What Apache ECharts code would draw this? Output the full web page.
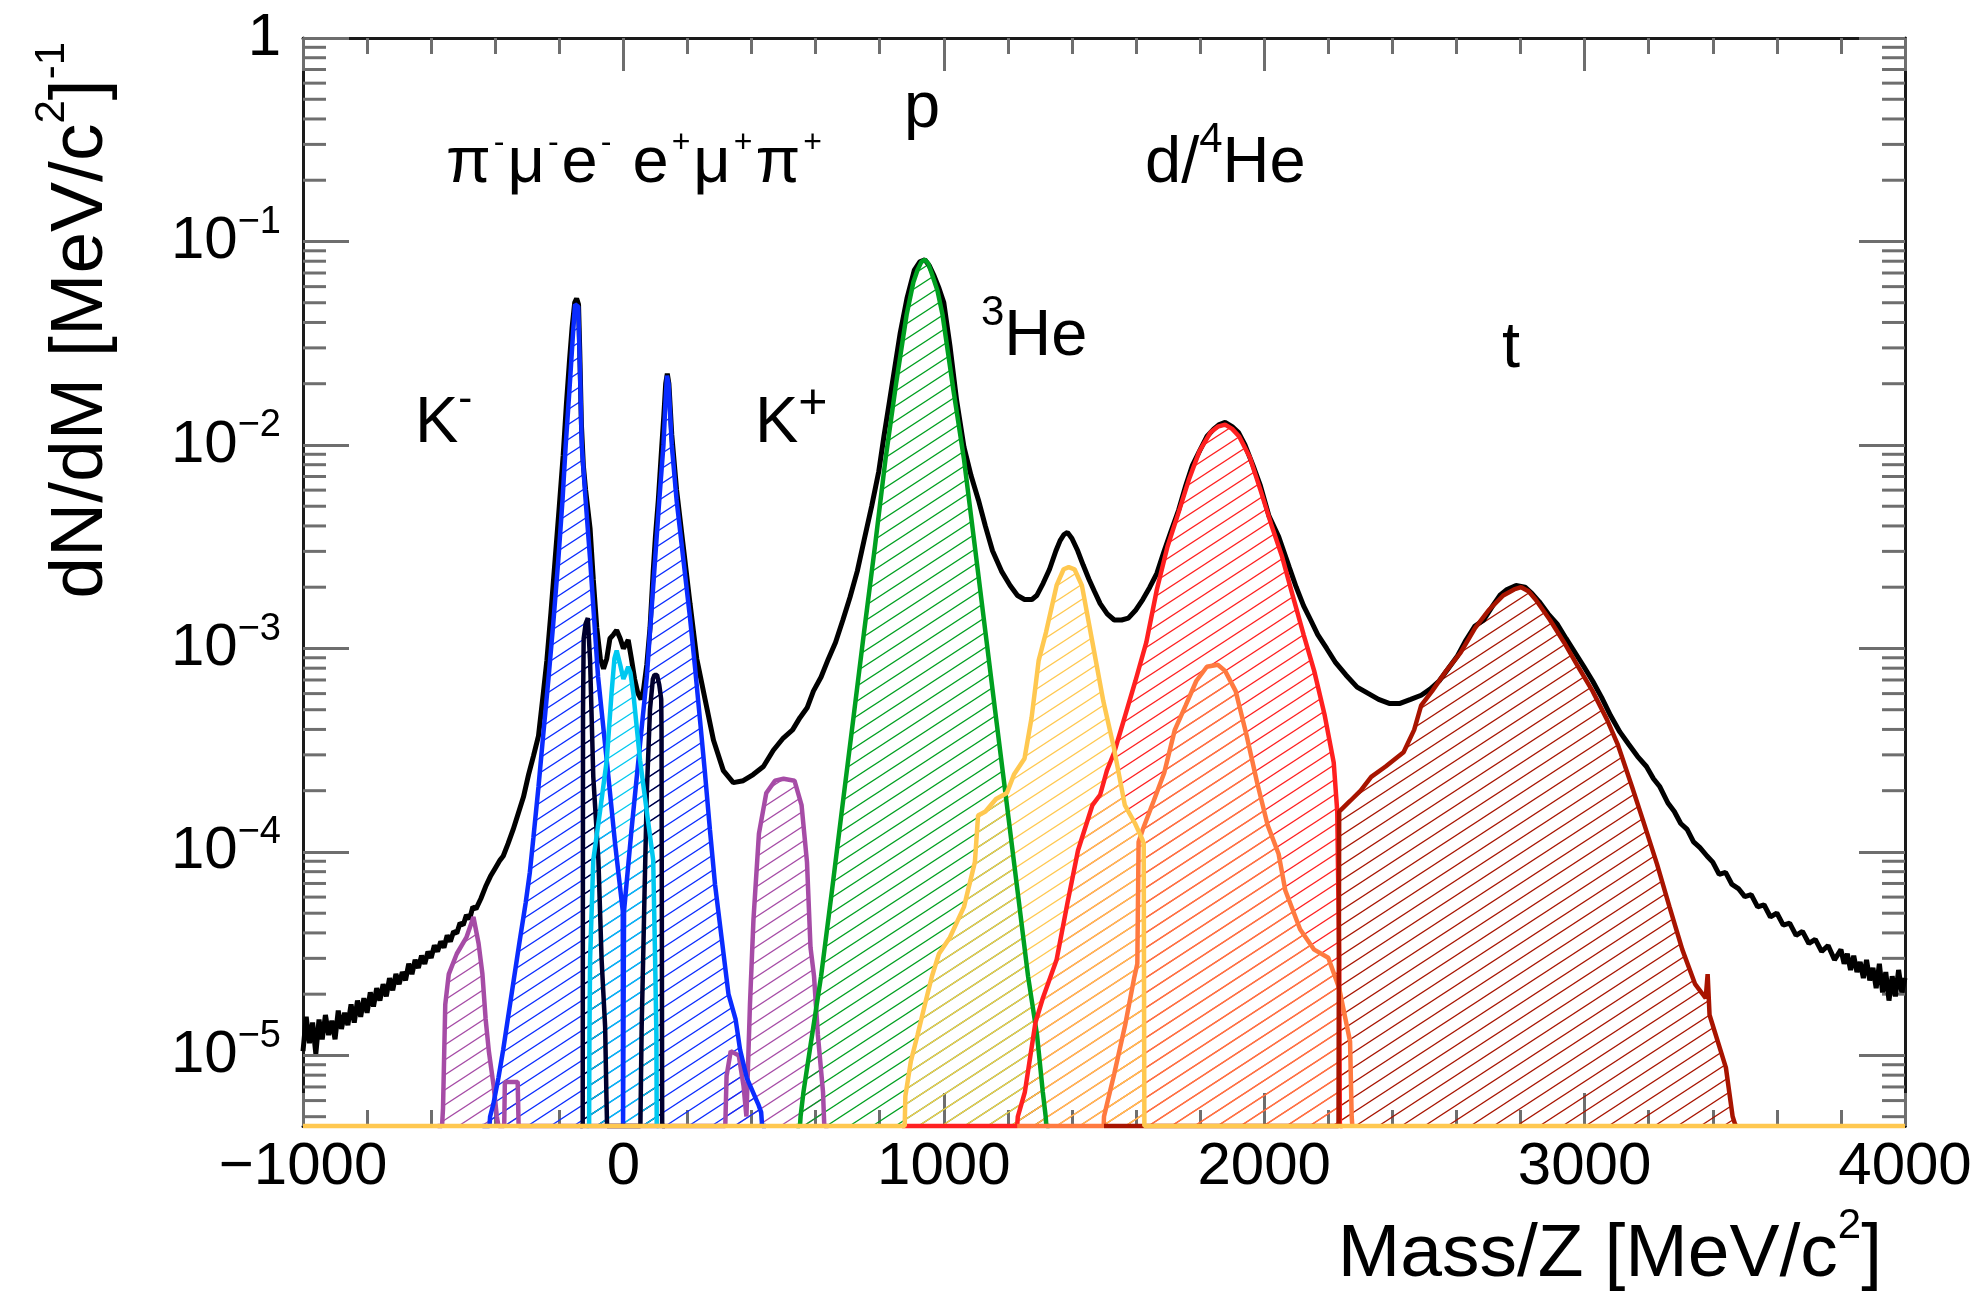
<!DOCTYPE html>
<html>
<head>
<meta charset="utf-8">
<script src="https://cdn.jsdelivr.net/npm/echarts@6.0.0/dist/echarts.min.js"></script>
<style>
html,body{margin:0;padding:0;background:#ffffff;}
#chart{width:1982px;height:1297px;}
</style>
</head>
<body>
<div id="chart"></div>
<script>
// ---------------- axis ranges and tick values ----------------
const X_MIN = -1000, X_MAX = 4000, X_STEP = 1000;
const Y_MIN = 4.5e-6, Y_MAX = 1;
const yMinorTicks = [5e-6,6e-6,7e-6,8e-6,9e-6,
  2e-5,3e-5,4e-5,5e-5,6e-5,7e-5,8e-5,9e-5,
  2e-4,3e-4,4e-4,5e-4,6e-4,7e-4,8e-4,9e-4,
  2e-3,3e-3,4e-3,5e-3,6e-3,7e-3,8e-3,9e-3,
  2e-2,3e-2,4e-2,5e-2,6e-2,7e-2,8e-2,9e-2,
  0.2,0.3,0.4,0.5,0.6,0.7,0.8,0.9];

// ---------------- data: [Mass/Z (MeV/c^2), dN/dM] ; 0 = empty bin ----------------
const totalSpectrum = [[-1000,1.05e-5],[-990,1.55e-5],[-980,1.15e-5],[-970,1.45e-5],[-960,1.02e-5],[-950,1.50e-5],[-940,1.20e-5],[-930,1.58e-5],[-920,1.26e-5],[-910,1.48e-5],[-900,1.20e-5],[-890,1.66e-5],[-880,1.35e-5],[-870,1.62e-5],[-860,1.41e-5],[-850,1.78e-5],[-840,1.45e-5],[-830,1.86e-5],[-820,1.55e-5],[-810,1.91e-5],[-800,1.62e-5],[-790,2.04e-5],[-780,1.74e-5],[-770,2.14e-5],[-760,1.86e-5],[-750,2.24e-5],[-740,1.95e-5],[-730,2.40e-5],[-720,2.09e-5],[-710,2.51e-5],[-700,2.24e-5],[-690,2.57e-5],[-680,2.34e-5],[-670,2.82e-5],[-660,2.51e-5],[-650,2.95e-5],[-640,2.69e-5],[-630,3.09e-5],[-620,2.82e-5],[-610,3.24e-5],[-600,3.02e-5],[-590,3.47e-5],[-580,3.24e-5],[-570,3.63e-5],[-560,3.39e-5],[-550,3.89e-5],[-540,3.63e-5],[-530,4.07e-5],[-520,3.98e-5],[-510,4.47e-5],[-500,4.37e-5],[-490,4.90e-5],[-480,4.68e-5],[-470,5.37e-5],[-460,5.25e-5],[-445,5.89e-5],[-430,6.76e-5],[-415,7.59e-5],[-400,8.32e-5],[-385,9.12e-5],[-375,9.55e-5],[-360,1.10e-4],[-344,1.29e-4],[-328,1.55e-4],[-312,1.86e-4],[-296,2.40e-4],[-281,2.95e-4],[-265,3.72e-4],[-250,6.03e-4],[-239,8.71e-4],[-226,1.51e-3],[-213,2.75e-3],[-200,5.01e-3],[-188,8.91e-3],[-178,1.58e-2],[-168,2.63e-2],[-160,3.80e-2],[-152,5.01e-2],[-146,5.25e-2],[-140,4.90e-2],[-136,2.82e-2],[-131,1.26e-2],[-125,7.94e-3],[-118,6.03e-3],[-104,3.89e-3],[-94,2.19e-3],[-83,1.26e-3],[-72,8.91e-4],[-62,7.94e-4],[-52,8.91e-4],[-42,1.12e-3],[-31,1.17e-3],[-21,1.23e-3],[-10,1.12e-3],[0,1.00e-3],[8,1.05e-3],[15,1.10e-3],[25,8.91e-4],[35,7.08e-4],[45,6.03e-4],[55,5.62e-4],[63,6.31e-4],[73,8.32e-4],[83,1.26e-3],[93,2.40e-3],[100,3.55e-3],[109,5.37e-3],[120,1.00e-2],[126,1.38e-2],[132,2.00e-2],[137,2.24e-2],[142,2.00e-2],[151,1.12e-2],[166,6.03e-3],[187,3.16e-3],[208,1.66e-3],[229,8.91e-4],[255,5.62e-4],[281,3.55e-4],[312,2.51e-4],[343,2.19e-4],[374,2.24e-4],[405,2.40e-4],[437,2.63e-4],[468,3.16e-4],[499,3.63e-4],[528,3.98e-4],[551,4.57e-4],[574,5.13e-4],[593,6.17e-4],[617,7.24e-4],[640,8.91e-4],[662,1.07e-3],[685,1.38e-3],[707,1.78e-3],[730,2.40e-3],[751,3.39e-3],[775,5.01e-3],[797,7.41e-3],[813,1.10e-2],[830,1.62e-2],[847,2.40e-2],[864,3.55e-2],[885,5.25e-2],[908,7.24e-2],[925,7.94e-2],[941,8.13e-2],[955,7.59e-2],[970,6.76e-2],[985,5.89e-2],[1000,5.01e-2],[1019,3.09e-2],[1040,1.66e-2],[1063,9.77e-3],[1085,7.08e-3],[1108,5.37e-3],[1130,3.98e-3],[1152,3.02e-3],[1180,2.40e-3],[1207,2.04e-3],[1230,1.82e-3],[1252,1.74e-3],[1275,1.74e-3],[1290,1.82e-3],[1310,2.09e-3],[1330,2.45e-3],[1350,3.02e-3],[1363,3.39e-3],[1375,3.63e-3],[1386,3.72e-3],[1400,3.47e-3],[1418,3.02e-3],[1435,2.57e-3],[1453,2.19e-3],[1470,1.91e-3],[1488,1.66e-3],[1510,1.48e-3],[1532,1.38e-3],[1555,1.38e-3],[1576,1.41e-3],[1600,1.55e-3],[1621,1.74e-3],[1643,2.00e-3],[1665,2.34e-3],[1688,3.02e-3],[1710,3.80e-3],[1733,4.79e-3],[1755,6.31e-3],[1776,7.94e-3],[1798,9.33e-3],[1821,1.10e-2],[1843,1.20e-2],[1860,1.26e-2],[1878,1.29e-2],[1900,1.23e-2],[1920,1.15e-2],[1940,1.00e-2],[1965,7.94e-3],[1988,6.31e-3],[2015,4.47e-3],[2045,3.55e-3],[2078,2.51e-3],[2100,2.00e-3],[2123,1.62e-3],[2145,1.38e-3],[2167,1.17e-3],[2195,1.00e-3],[2223,8.51e-4],[2255,7.41e-4],[2290,6.46e-4],[2323,6.03e-4],[2357,5.62e-4],[2390,5.37e-4],[2424,5.37e-4],[2457,5.62e-4],[2490,5.89e-4],[2518,6.31e-4],[2546,6.92e-4],[2574,7.94e-4],[2602,9.12e-4],[2630,1.10e-3],[2658,1.29e-3],[2685,1.38e-3],[2713,1.62e-3],[2735,1.82e-3],[2758,1.95e-3],[2786,2.04e-3],[2814,2.00e-3],[2836,1.86e-3],[2858,1.70e-3],[2886,1.48e-3],[2914,1.32e-3],[2942,1.12e-3],[2970,9.55e-4],[2998,8.13e-4],[3025,6.92e-4],[3053,5.75e-4],[3081,4.68e-4],[3110,3.89e-4],[3137,3.39e-4],[3165,2.95e-4],[3193,2.63e-4],[3215,2.29e-4],[3235,2.09e-4],[3260,1.74e-4],[3280,1.58e-4],[3300,1.38e-4],[3320,1.29e-4],[3340,1.12e-4],[3360,1.05e-4],[3382,9.55e-5],[3400,8.91e-5],[3420,7.76e-5],[3440,7.94e-5],[3460,6.92e-5],[3480,6.61e-5],[3500,6.03e-5],[3520,6.17e-5],[3540,5.37e-5],[3560,5.50e-5],[3580,4.79e-5],[3600,5.01e-5],[3620,4.37e-5],[3640,4.47e-5],[3660,3.89e-5],[3680,4.07e-5],[3700,3.55e-5],[3720,3.72e-5],[3740,3.24e-5],[3760,3.47e-5],[3780,2.95e-5],[3800,3.31e-5],[3810,2.82e-5],[3820,3.16e-5],[3830,2.63e-5],[3840,3.09e-5],[3850,2.57e-5],[3860,2.88e-5],[3870,2.40e-5],[3880,2.95e-5],[3890,2.34e-5],[3900,2.69e-5],[3910,2.14e-5],[3920,2.82e-5],[3930,2.04e-5],[3940,2.57e-5],[3950,1.86e-5],[3960,2.45e-5],[3970,1.95e-5],[3980,2.63e-5],[3990,2.04e-5],[4000,2.40e-5]];

const kaons = [[-580,0],[-566,0],[-563,5.50e-6],[-556,1.78e-5],[-545,2.51e-5],[-520,3.16e-5],[-490,3.80e-5],[-468,4.79e-5],[-452,3.55e-5],[-440,2.51e-5],[-430,1.51e-5],[-420,1.05e-5],[-405,7.08e-6],[-395,5.01e-6],[-390,0],[-372,0],[-370,7.41e-6],[-330,7.41e-6],[-327,0],[318,0],[322,7.94e-6],[335,1.05e-5],[360,1.00e-5],[375,7.08e-6],[384,5.01e-6],[395,1.78e-5],[406,4.68e-5],[423,1.23e-4],[446,1.95e-4],[473,2.24e-4],[500,2.29e-4],[534,2.24e-4],[556,1.70e-4],[573,8.91e-5],[584,3.39e-5],[595,2.45e-5],[607,1.26e-5],[623,6.61e-6],[627,0],[640,0]];

const pions = [[-440,0],[-418,0],[-416,5.01e-6],[-406,5.75e-6],[-390,7.76e-6],[-375,1.07e-5],[-349,2.00e-5],[-323,3.72e-5],[-305,5.62e-5],[-292,7.94e-5],[-281,1.17e-4],[-265,2.09e-4],[-250,3.80e-4],[-234,7.08e-4],[-219,1.32e-3],[-203,2.75e-3],[-190,5.37e-3],[-180,1.00e-2],[-168,1.91e-2],[-158,3.39e-2],[-151,4.90e-2],[-146,5.01e-2],[-141,4.79e-2],[-136,2.51e-2],[-130,1.00e-2],[-118,5.37e-3],[-104,2.75e-3],[-79,7.24e-4],[-52,2.82e-4],[-26,1.10e-4],[-2,5.13e-5],[-1,0],[1,0],[2,5.13e-5],[26,1.32e-4],[52,3.39e-4],[73,7.24e-4],[99,2.75e-3],[112,5.37e-3],[125,1.00e-2],[131,1.58e-2],[136,2.19e-2],[141,2.00e-2],[151,1.00e-2],[166,5.37e-3],[187,2.75e-3],[208,1.41e-3],[224,7.94e-4],[239,4.47e-4],[255,2.40e-4],[270,1.29e-4],[286,6.92e-5],[307,3.72e-5],[328,2.00e-5],[350,1.51e-5],[364,1.07e-5],[385,7.76e-6],[421,5.75e-6],[430,5.25e-6],[433,0],[445,0]];

const muons = [[-135,0],[-127,0],[-126,5.01e-4],[-124,1.12e-3],[-118,1.32e-3],[-111,1.41e-3],[-104,8.71e-4],[-94,2.34e-4],[-78,9.12e-5],[-68,2.95e-5],[-57,1.38e-5],[-53,6.31e-6],[-51,0],[53,0],[55,7.94e-6],[57,1.38e-5],[62,3.16e-5],[66,6.31e-5],[73,1.95e-4],[83,5.01e-4],[92,7.08e-4],[97,7.41e-4],[105,7.41e-4],[112,6.61e-4],[118,5.62e-4],[119,3.98e-4],[121,0],[130,0]];

const electrons = [[-115,0],[-107,0],[-106,1.26e-5],[-104,2.95e-5],[-94,9.12e-5],[-73,1.58e-4],[-52,2.82e-4],[-37,6.03e-4],[-28,8.91e-4],[-21,9.77e-4],[-10,8.32e-4],[0,7.08e-4],[8,7.59e-4],[15,8.13e-4],[22,7.59e-4],[31,6.03e-4],[52,2.82e-4],[73,1.58e-4],[93,9.12e-5],[99,2.95e-5],[103,1.26e-5],[104,0],[110,0]];

const protons = [[540,0],[551,0],[553,5.01e-6],[562,6.61e-6],[584,1.12e-5],[617,2.45e-5],[651,6.46e-5],[684,1.70e-4],[718,4.57e-4],[751,1.20e-3],[785,3.16e-3],[818,8.51e-3],[851,2.00e-2],[884,4.37e-2],[905,6.31e-2],[918,7.24e-2],[930,7.94e-2],[941,8.13e-2],[952,7.76e-2],[963,6.92e-2],[980,5.75e-2],[996,4.37e-2],[1030,1.86e-2],[1063,8.51e-3],[1097,3.16e-3],[1130,1.20e-3],[1163,4.57e-4],[1197,1.70e-4],[1230,6.46e-5],[1263,2.45e-5],[1291,1.26e-5],[1309,6.61e-6],[1318,5.01e-6],[1320,0],[1330,0]];

const deuterons = [[870,0],[1229,0],[1231,5.01e-6],[1253,6.61e-6],[1286,1.45e-5],[1309,1.91e-5],[1352,2.95e-5],[1386,5.62e-5],[1419,1.02e-4],[1464,1.70e-4],[1488,1.91e-4],[1509,2.51e-4],[1532,3.09e-4],[1566,4.68e-4],[1598,6.92e-4],[1632,1.07e-3],[1665,1.95e-3],[1698,3.16e-3],[1731,4.57e-3],[1765,6.76e-3],[1798,9.33e-3],[1832,1.15e-2],[1855,1.23e-2],[1878,1.26e-2],[1900,1.20e-2],[1922,1.10e-2],[1955,8.71e-3],[1988,6.03e-3],[2022,4.07e-3],[2056,2.82e-3],[2089,1.82e-3],[2123,1.17e-3],[2156,7.76e-4],[2189,4.68e-4],[2217,2.75e-4],[2228,1.58e-4],[2234,3.16e-5],[2236,0],[2245,0]];

const helium4 = [[1229,0],[1499,0],[1500,5.01e-6],[1532,8.13e-6],[1566,1.41e-5],[1594,2.40e-5],[1604,2.82e-5],[1608,1.12e-4],[1621,1.29e-4],[1655,1.78e-4],[1688,2.45e-4],[1721,3.98e-4],[1755,5.25e-4],[1788,6.92e-4],[1821,8.13e-4],[1855,8.32e-4],[1878,7.76e-4],[1911,6.17e-4],[1944,3.80e-4],[1978,2.19e-4],[2011,1.35e-4],[2045,9.77e-5],[2066,6.46e-5],[2112,4.17e-5],[2156,3.31e-5],[2200,3.02e-5],[2234,2.14e-5],[2268,1.17e-5],[2273,5.01e-6],[2275,0]];

const tritons = [[1500,0],[2232,0],[2234,1.58e-4],[2268,1.78e-4],[2301,2.00e-4],[2334,2.34e-4],[2379,2.63e-4],[2435,3.09e-4],[2468,3.98e-4],[2490,5.25e-4],[2524,6.17e-4],[2568,7.76e-4],[2613,9.55e-4],[2658,1.26e-3],[2702,1.55e-3],[2746,1.82e-3],[2780,1.95e-3],[2802,2.00e-3],[2825,1.91e-3],[2847,1.74e-3],[2892,1.38e-3],[2936,1.07e-3],[2980,8.13e-4],[3025,6.17e-4],[3070,4.47e-4],[3103,3.39e-4],[3148,2.09e-4],[3181,1.45e-4],[3226,8.71e-5],[3265,5.37e-5],[3305,3.31e-5],[3345,2.24e-5],[3378,1.91e-5],[3384,2.51e-5],[3390,1.58e-5],[3441,8.71e-6],[3462,5.01e-6],[3470,4.57e-6],[3475,0]];

const helium3 = [[-1000,0],[878,0],[880,6.31e-6],[897,9.33e-6],[918,1.26e-5],[941,1.78e-5],[963,2.45e-5],[985,3.16e-5],[1019,3.80e-5],[1063,5.37e-5],[1097,8.91e-5],[1107,1.51e-4],[1130,1.58e-4],[1163,1.82e-4],[1197,1.95e-4],[1219,2.40e-4],[1252,2.88e-4],[1274,4.57e-4],[1296,8.71e-4],[1319,1.20e-3],[1352,2.04e-3],[1374,2.45e-3],[1390,2.51e-3],[1408,2.45e-3],[1431,2.04e-3],[1464,1.07e-3],[1498,5.50e-4],[1531,3.24e-4],[1565,1.70e-4],[1597,1.38e-4],[1620,1.15e-4],[1624,1.10e-4],[1626,0],[4000,0]];

// ---------------- styling ----------------
const FONT = '"Liberation Sans", Arial, Helvetica, sans-serif';
const TICK = { color: '#6e6e6e', width: 3 };
const FRAME = { color: '#1a1a1a', width: 3 };

const histograms = [
  { name: 'K', data: kaons, color: '#a64ca6' },
  { name: 'pi', data: pions, color: '#0a2cff' },
  { name: 'mu', data: muons, color: '#00002e' },
  { name: 'e', data: electrons, color: '#00c8f0' },
  { name: 'p', data: protons, color: '#00a020' },
  { name: 'd', data: deuterons, color: '#ff2020' },
  { name: 'He4', data: helium4, color: '#ff7a40' },
  { name: 't', data: tritons, color: '#a81400' },
  { name: 'He3', data: helium3, color: '#ffc850' }
];

function hatchPattern(color) {
  const c = document.createElement('canvas');
  c.width = 23; c.height = 15;
  const g = c.getContext('2d');
  g.strokeStyle = color;
  g.lineWidth = 1.3;
  for (let k = -1; k <= 1; k++) {
    g.beginPath();
    g.moveTo(-23, 30 + 15 * k);
    g.lineTo(46, -15 + 15 * k);
    g.stroke();
  }
  return { image: c, repeat: 'repeat' };
}
function withFloor(d) { return d.map(p => [p[0], p[1] > 0 ? p[1] : Y_MIN]); }

function yLabel(v) {
  const l = Math.log10(v);
  const e = Math.round(l);
  if (Math.abs(l - e) > 0.01) return '';
  if (e === 0) return '{b|1}';
  return '{b|10}{s|\u2212' + (-e) + '}';
}

const series = [];
series.push({
  type: 'line', name: 'total', data: withFloor(totalSpectrum), symbol: 'none', showSymbol: false,
  color: '#000', lineStyle: { color: '#000', width: 5 }, clip: false, silent: true, z: 2,
  xAxisIndex: 0, yAxisIndex: 0
});
histograms.forEach(h => {
  series.push({
    type: 'line', name: h.name, data: withFloor(h.data), symbol: 'none', showSymbol: false,
    color: h.color, lineStyle: { color: h.color, width: 4.5 },
    areaStyle: { color: hatchPattern(h.color), origin: 'start', opacity: 1 },
    clip: false, silent: true, z: 2, xAxisIndex: 0, yAxisIndex: 0
  });
});
series.push({
  type: 'custom', name: 'yMinorTicks', coordinateSystem: 'cartesian2d', xAxisIndex: 0, yAxisIndex: 0,
  silent: true, z: 1, clip: false,
  data: yMinorTicks.map(v => [X_MIN, v]),
  renderItem: function (params, api) {
    const v = api.value(1);
    const pl = api.coord([X_MIN, v]);
    const pr = api.coord([X_MAX, v]);
    return {
      type: 'group',
      children: [
        { type: 'line', shape: { x1: pl[0], y1: pl[1], x2: pl[0] + 23, y2: pl[1] }, style: { stroke: TICK.color, lineWidth: TICK.width } },
        { type: 'line', shape: { x1: pr[0], y1: pr[1], x2: pr[0] - 23, y2: pr[1] }, style: { stroke: TICK.color, lineWidth: TICK.width } }
      ]
    };
  }
});

const labelRich = {
  b: { fontSize: 65, fontFamily: FONT, color: '#000', lineHeight: 90 },
  s: { fontSize: 42, fontFamily: FONT, color: '#000', lineHeight: 42, verticalAlign: 'top' },
  q: { fontSize: 50, fontFamily: FONT, color: '#000', lineHeight: 72, verticalAlign: 'top' },
  p: { fontSize: 32, fontFamily: FONT, color: '#000', verticalAlign: 'top', padding: [8, 3, 0, 3] }
};
const titleRich = {
  t: { fontSize: 75, fontFamily: FONT, color: '#000', lineHeight: 100 },
  u: { fontSize: 42, fontFamily: FONT, color: '#000', lineHeight: 52, verticalAlign: 'top' }
};
function txt(x, y, text, rich, align, rotation) {
  return {
    type: 'text', x: x, y: y, rotation: rotation || 0, silent: true, z: 50,
    style: {
      text: text, rich: rich, fill: '#000', fontFamily: FONT, fontSize: 65,
      align: align, verticalAlign: 'middle', textAlign: align, textVerticalAlign: 'middle'
    }
  };
}

const particleLabels = [
  txt(446, 164, '{b|\u03c0}{p|-}{b|\u03bc}{p|-}{b|e}{p|-}{b| e}{p|+}{b|\u03bc}{p|+}{b|\u03c0}{p|+}', labelRich, 'left'),
  txt(904, 109, '{b|p}', labelRich, 'left'),
  txt(1145, 164, '{b|d/}{s|4}{b|He}', labelRich, 'left'),
  txt(981, 337, '{s|3}{b|He}', labelRich, 'left'),
  txt(1502, 349, '{b|t}', labelRich, 'left'),
  txt(415, 424, '{b|K}{s|-}', labelRich, 'left'),
  txt(755, 424, '{b|K}{q|+}', labelRich, 'left')
];
const axisTitles = [
  txt(1882, 1255, '{t|Mass/Z [MeV/c}{u|2}{t|]}', titleRich, 'right'),
  txt(81, 42, '{t|dN/dM [MeV/c}{u|2}{t|]}{u|-1}', titleRich, 'right', Math.PI / 2)
];

const xAxisBase = {
  type: 'value', min: X_MIN, max: X_MAX, interval: X_STEP,
  axisLine: { show: true, onZero: false, lineStyle: FRAME },
  axisTick: { show: true, inside: true, length: 33, lineStyle: TICK },
  minorTick: { show: true, splitNumber: 5, length: 16, lineStyle: TICK },
  splitLine: { show: false }, minorSplitLine: { show: false }
};
const yAxisBase = {
  type: 'log', logBase: 10, min: Y_MIN, max: Y_MAX,
  axisLine: { show: true, onZero: false, lineStyle: FRAME },
  axisTick: { show: true, inside: true, length: 46, lineStyle: TICK },
  splitLine: { show: false }, minorSplitLine: { show: false }
};

const chart = echarts.init(document.getElementById('chart'), null, { renderer: 'canvas' });
chart.setOption({
  animation: false,
  backgroundColor: '#ffffff',
  textStyle: { fontFamily: FONT },
  grid: { left: 303, right: 77, top: 38, bottom: 171, containLabel: false },
  xAxis: [
    Object.assign({}, xAxisBase, {
      position: 'bottom',
      axisLabel: { show: true, margin: 11, fontSize: 60, fontFamily: FONT, color: '#000',
        formatter: v => String(v).replace('-', '\u2212') }
    }),
    Object.assign({}, xAxisBase, { position: 'top', axisLabel: { show: false } })
  ],
  yAxis: [
    Object.assign({}, yAxisBase, {
      position: 'left',
      axisLabel: { show: true, margin: 22, formatter: yLabel,
        rich: {
          b: { fontSize: 60, fontFamily: FONT, color: '#000', lineHeight: 76 },
          s: { fontSize: 38, fontFamily: FONT, color: '#000', lineHeight: 36, verticalAlign: 'top' }
        } }
    }),
    Object.assign({}, yAxisBase, { position: 'right', axisLabel: { show: false } })
  ],
  series: series,
  graphic: particleLabels.concat(axisTitles)
});
</script>
</body>
</html>
